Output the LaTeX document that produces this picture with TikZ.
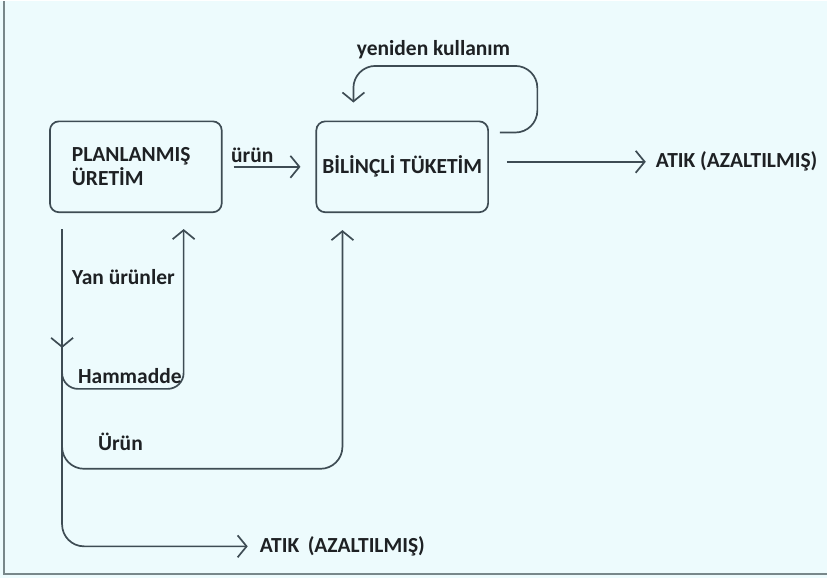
\documentclass[tikz,border=0pt]{standalone}
\usepackage{fontspec}
\setmainfont{Carlito}
\usepackage{xcolor}
\usetikzlibrary{arrows.meta,positioning,calc}
\definecolor{bgcyan}{RGB}{237,251,253}
\definecolor{frame}{RGB}{120,135,138}
\definecolor{wire}{RGB}{62,76,84}
\definecolor{txt}{RGB}{30,33,36}
\tikzset{
  stage/.style={draw=wire,line width=1.7pt,rounded corners=9pt,minimum width=172pt,minimum height=91pt,font=\bfseries\fontsize{21.5}{24}\selectfont,text=txt},
  lbl/.style={inner sep=0pt,font=\bfseries\fontsize{21.5}{24}\selectfont,text=txt},
  flow/.style={-{Straight Barb[length=9pt,width=22pt]},wire,line width=1.7pt},
}

\begin{document}
\begin{tikzpicture}[x=1pt,y=-1pt]
\fill[bgcyan] (0,0) rectangle (828,578);
\draw[frame,line width=2pt] (4,0) -- (4,574) -- (828,574);
\useasboundingbox (0,0) rectangle (828,578);
% the two stages
\node[stage,text width=128pt,inner xsep=22pt,align=left] (plan) at (136,166) {PLANLANMIŞ\\ÜRETİM};
\node[stage,right=93pt of plan] (tuk) {BİLİNÇLİ TÜKETİM};
\node[lbl,right=167pt of tuk,yshift=5pt] (atik1) {ATIK (AZALTILMIŞ)};
\draw[flow,shorten <=11pt,shorten >=15pt] (plan) -- (tuk)
  node[lbl,pos=0.32,above=3pt] (urun) {ürün};
\draw[flow,shorten <=18pt,shorten >=10pt] ([yshift=5pt]tuk.east) -- (atik1);
% reuse loop
\coordinate (out) at ([xshift=11pt,yshift=-12pt]tuk.north east);
\coordinate (turn) at (538,65);
\draw[flow,rounded corners=22pt] (out) -| (turn) -| ([xshift=38pt,yshift=18pt]tuk.north west);
\node[lbl] (reuse) at (434,49) {yeniden kullanım};
% by-products below the production stage
\coordinate (src) at ([xshift=13pt,yshift=-16pt]plan.south west);
\coordinate (rawin) at ([xshift=-39pt,yshift=-16pt]plan.south east);
\coordinate (tukin) at ([xshift=27pt,yshift=-17pt]tuk.south west);
\node[lbl,anchor=west] (atik2) at (260,546) {ATIK \,(AZALTILMIŞ)};
\draw[flow] (src) -- ++(0,119);
\draw[flow,rounded corners=22pt,shorten >=12pt] (src) |- (atik2.west);
\draw[flow,rounded corners=16pt] ([yshift=-128pt]src) |- ([yshift=-160pt]rawin) -- (rawin);
\draw[flow,rounded corners=22pt] ([yshift=-192pt]src) |- ([yshift=-239pt]tukin) -- (tukin);
\node[lbl,anchor=west] (yan) at (72,276) {Yan ürünler};
\node[lbl,anchor=west] (ham) at (78,375) {Hammadde};
\node[lbl,anchor=west] (urun2) at (98,441) {Ürün};
\end{tikzpicture}
\end{document}
